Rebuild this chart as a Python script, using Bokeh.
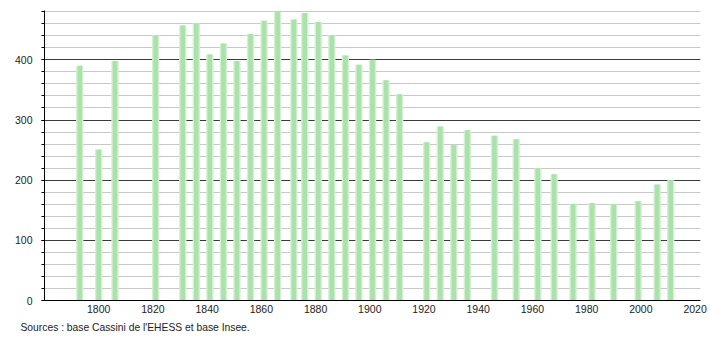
from bokeh.plotting import figure
from bokeh.models import Range1d, SingleIntervalTicker, FixedTicker, Title, ColumnDataSource
from bokeh.embed import file_html
from bokeh.resources import INLINE

years = [1793, 1800, 1806, 1821, 1831, 1836, 1841, 1846, 1851, 1856, 1861, 1866,
         1872, 1876, 1881, 1886, 1891, 1896, 1901, 1906, 1911, 1921, 1926, 1931,
         1936, 1946, 1954, 1962, 1968, 1975, 1982, 1990, 1999, 2006, 2011]
population = [390, 251, 398, 441, 457, 461, 409, 427, 398, 443, 465, 480,
              467, 478, 463, 441, 407, 392, 400, 366, 343, 263, 289, 258,
              283, 274, 268, 220, 210, 161, 162, 160, 165, 193, 200]
x_ticks = [1800, 1820, 1840, 1860, 1880, 1900, 1920, 1940, 1960, 1980, 2000, 2020]
source_text = "Sources : base Cassini de l'EHESS et base Insee."

FONT = "Liberation Sans"

src = ColumnDataSource(dict(year=years, pop=population))

p = figure(width=710, height=340, output_backend="svg", toolbar_location=None,
           x_range=Range1d(1780, 2022), y_range=Range1d(0, 482),
           min_border_left=44, min_border_right=10, min_border_top=10,
           min_border_bottom=40, background_fill_color="white",
           border_fill_color="white")
p.outline_line_color = None

# bars: light halo + core to mimic soft edges
p.vbar(x="year", top="pop", width=2.7, bottom=0, source=src,
       fill_color="#d3f0d3", line_color=None)
p.vbar(x="year", top="pop", width=1.7, bottom=0, source=src,
       fill_color="#abe2ab", line_color=None)

# grids
p.xgrid.grid_line_color = None
p.ygrid.ticker = SingleIntervalTicker(interval=100, num_minor_ticks=5)
p.ygrid.grid_line_color = "#3a3a3a"
p.ygrid.grid_line_width = 1
p.ygrid.minor_grid_line_color = "#c8c8c8"
p.ygrid.minor_grid_line_width = 1
p.ygrid.level = "underlay"

# y axis
p.yaxis.ticker = SingleIntervalTicker(interval=100, num_minor_ticks=5)
p.yaxis.axis_line_color = "black"
p.yaxis.major_tick_out = 3
p.yaxis.major_tick_in = 0
p.yaxis.minor_tick_out = 3
p.yaxis.minor_tick_in = 0
p.yaxis.major_label_standoff = 9
p.yaxis.major_label_text_font = FONT
p.yaxis.major_label_text_font_size = "10.5px"
p.yaxis.major_label_text_color = "#222222"

# x axis
p.xaxis.ticker = FixedTicker(ticks=x_ticks)
p.xaxis.axis_line_color = "black"
p.xaxis.major_tick_out = 0
p.xaxis.major_tick_in = 0
p.xaxis.minor_tick_out = 0
p.xaxis.minor_tick_in = 0
p.xaxis.major_label_standoff = 4
p.xaxis.major_label_text_font = FONT
p.xaxis.major_label_text_font_size = "10.5px"
p.xaxis.major_label_text_color = "#222222"

note = Title(text=source_text, align="left", offset=-24, standoff=8,
             text_font=FONT, text_font_size="10.3px", text_font_style="normal",
             text_color="#222222")
p.add_layout(note, "below")

open("out.html", "w").write(file_html(p, INLINE))
